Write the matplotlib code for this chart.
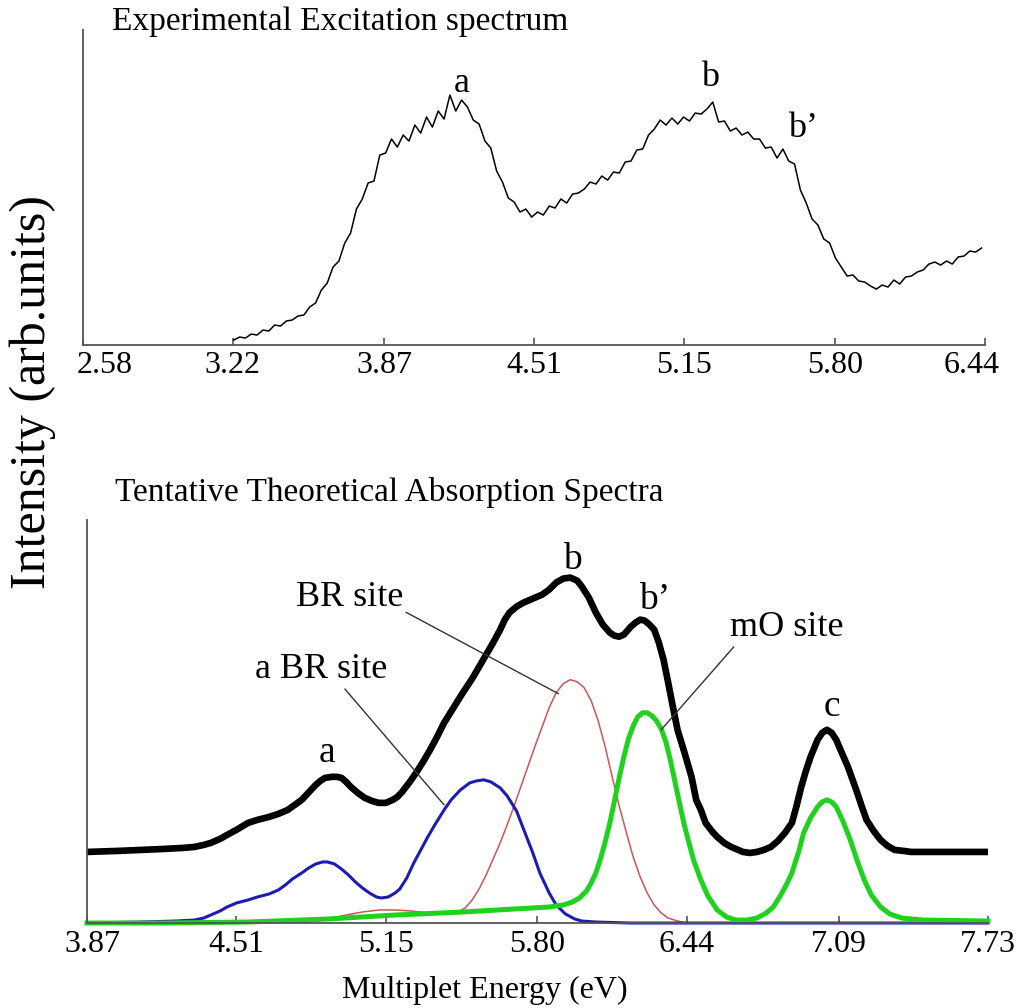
import numpy as np
import matplotlib
matplotlib.use("Agg")
import matplotlib.pyplot as plt
import matplotlib.transforms as mtransforms

plt.rcParams['font.family'] = ['Liberation Serif', 'DejaVu Serif']

# ---- experimental excitation spectrum (top) ----
exp_energy = [
    3.225, 3.250, 3.275, 3.300, 3.325, 3.350, 3.375, 3.400, 3.425, 3.450,
    3.475, 3.500, 3.525, 3.550, 3.575, 3.600, 3.625, 3.650, 3.675, 3.700,
    3.725, 3.750, 3.775, 3.800, 3.825, 3.850, 3.875, 3.900, 3.925, 3.950,
    3.975, 4.000, 4.025, 4.050, 4.075, 4.100, 4.125, 4.150, 4.175, 4.200,
    4.225, 4.250, 4.275, 4.300, 4.325, 4.350, 4.375, 4.400, 4.425, 4.450,
    4.475, 4.500, 4.525, 4.550, 4.575, 4.600, 4.625, 4.650, 4.675, 4.700,
    4.725, 4.750, 4.775, 4.800, 4.825, 4.850, 4.875, 4.900, 4.925, 4.950,
    4.975, 5.000, 5.025, 5.050, 5.075, 5.100, 5.125, 5.150, 5.175, 5.200,
    5.225, 5.250, 5.275, 5.300, 5.325, 5.350, 5.375, 5.400, 5.425, 5.450,
    5.475, 5.500, 5.525, 5.550, 5.575, 5.600, 5.625, 5.650, 5.675, 5.700,
    5.725, 5.750, 5.775, 5.800, 5.825, 5.850, 5.875, 5.900, 5.925, 5.950,
    5.975, 6.000, 6.025, 6.050, 6.075, 6.100, 6.125, 6.150, 6.175, 6.200,
    6.225, 6.250, 6.275, 6.300, 6.325, 6.350, 6.375, 6.400, 6.425,
]
exp_intensity = [
    0.05, 0.08, 0.07, 0.11, 0.10, 0.15, 0.14, 0.20, 0.19, 0.24,
    0.25, 0.29, 0.30, 0.38, 0.42, 0.55, 0.62, 0.78, 0.84, 1.02,
    1.12, 1.36, 1.46, 1.62, 1.64, 1.90, 1.92, 2.06, 1.98, 2.10,
    2.04, 2.20, 2.12, 2.28, 2.18, 2.34, 2.26, 2.50, 2.34, 2.45,
    2.38, 2.25, 2.21, 2.04, 1.97, 1.74, 1.63, 1.47, 1.43, 1.33,
    1.36, 1.28, 1.33, 1.30, 1.39, 1.37, 1.46, 1.42, 1.51, 1.52,
    1.56, 1.63, 1.61, 1.69, 1.65, 1.73, 1.72, 1.83, 1.84, 1.95,
    1.96, 2.10, 2.16, 2.25, 2.20, 2.27, 2.21, 2.28, 2.24, 2.32,
    2.31, 2.36, 2.43, 2.23, 2.24, 2.14, 2.17, 2.10, 2.13, 2.06,
    2.06, 1.97, 1.98, 1.87, 1.96, 1.84, 1.81, 1.55, 1.42, 1.26,
    1.20, 1.06, 1.02, 0.87, 0.78, 0.69, 0.70, 0.64, 0.63, 0.59,
    0.56, 0.60, 0.58, 0.65, 0.61, 0.68, 0.69, 0.73, 0.75, 0.81,
    0.83, 0.80, 0.84, 0.81, 0.88, 0.89, 0.94, 0.93, 0.97,
]
top_ticks = [2.58, 3.22, 3.87, 4.51, 5.15, 5.80, 6.44]

# ---- theoretical absorption spectra (bottom) ----
total_x = [3.87, 4.00, 4.10, 4.20, 4.28, 4.33, 4.37, 4.40, 4.44, 4.47,
           4.51, 4.56, 4.60, 4.65, 4.69, 4.73, 4.76, 4.79, 4.81, 4.83,
           4.85, 4.87, 4.89, 4.92, 4.94, 4.96, 4.98, 5.00, 5.03, 5.06,
           5.09, 5.12, 5.15, 5.18, 5.20, 5.22, 5.25, 5.28, 5.31, 5.34,
           5.37, 5.40, 5.44, 5.48, 5.52, 5.55, 5.58, 5.61, 5.64, 5.66,
           5.68, 5.71, 5.74, 5.78, 5.82, 5.85, 5.88, 5.91, 5.94, 5.97,
           5.99, 6.02, 6.05, 6.08, 6.11, 6.13, 6.15, 6.17, 6.20, 6.22,
           6.24, 6.26, 6.28, 6.30, 6.32, 6.34, 6.36, 6.38, 6.40, 6.43,
           6.46, 6.48, 6.50, 6.52, 6.55, 6.57, 6.60, 6.63, 6.66, 6.68,
           6.71, 6.74, 6.77, 6.80, 6.83, 6.86, 6.89, 6.91, 6.93, 6.95,
           6.97, 7.00, 7.02, 7.04, 7.06, 7.08, 7.10, 7.13, 7.15, 7.17,
           7.19, 7.21, 7.24, 7.27, 7.30, 7.33, 7.37, 7.40, 7.55, 7.73]
total_y = [0.71, 0.72, 0.73, 0.74, 0.75, 0.76, 0.78, 0.80, 0.84, 0.88,
           0.93, 1.00, 1.03, 1.06, 1.09, 1.13, 1.18, 1.23, 1.28, 1.33,
           1.38, 1.42, 1.45, 1.46, 1.46, 1.45, 1.41, 1.36, 1.30, 1.25,
           1.22, 1.20, 1.20, 1.23, 1.26, 1.31, 1.40, 1.50, 1.61, 1.73,
           1.86, 2.00, 2.15, 2.30, 2.44, 2.56, 2.68, 2.80, 2.93, 3.03,
           3.10, 3.16, 3.20, 3.24, 3.28, 3.33, 3.40, 3.44, 3.45, 3.42,
           3.36, 3.25, 3.10, 2.98, 2.90, 2.87, 2.86, 2.88, 2.96, 3.00,
           3.03, 3.02, 2.98, 2.93, 2.80, 2.63, 2.40, 2.16, 1.93, 1.70,
           1.46, 1.23, 1.13, 1.00, 0.91, 0.86, 0.80, 0.76, 0.73, 0.71,
           0.70, 0.71, 0.73, 0.76, 0.82, 0.90, 1.00, 1.17, 1.36, 1.52,
           1.66, 1.83, 1.90, 1.93, 1.90, 1.83, 1.72, 1.56, 1.43, 1.30,
           1.16, 1.03, 0.92, 0.83, 0.77, 0.73, 0.72, 0.71, 0.71, 0.71]

abr_x = [3.87, 4.10, 4.25, 4.33, 4.37, 4.40, 4.44, 4.47, 4.51, 4.56,
         4.60, 4.65, 4.69, 4.72, 4.75, 4.79, 4.82, 4.85, 4.88, 4.90,
         4.93, 4.96, 4.99, 5.02, 5.05, 5.08, 5.11, 5.13, 5.16, 5.19,
         5.21, 5.24, 5.27, 5.30, 5.33, 5.36, 5.40, 5.43, 5.47, 5.51,
         5.54, 5.57, 5.60, 5.64, 5.67, 5.71, 5.74, 5.78, 5.81, 5.85,
         5.88, 5.92, 5.96, 5.99, 6.05, 6.20, 7.73]
abr_y = [0.00, 0.01, 0.02, 0.03, 0.05, 0.08, 0.12, 0.16, 0.20, 0.23,
         0.26, 0.29, 0.33, 0.38, 0.44, 0.50, 0.55, 0.59, 0.61, 0.61,
         0.59, 0.54, 0.48, 0.41, 0.35, 0.30, 0.26, 0.25, 0.26, 0.30,
         0.34, 0.45, 0.60, 0.73, 0.86, 0.98, 1.13, 1.23, 1.33, 1.40,
         1.42, 1.43, 1.41, 1.35, 1.27, 1.12, 0.94, 0.70, 0.50, 0.30,
         0.18, 0.09, 0.04, 0.02, 0.01, 0.00, 0.00]

br_x = [4.80, 4.90, 4.98, 5.05, 5.12, 5.19, 5.26, 5.33, 5.40, 5.45,
        5.49, 5.52, 5.55, 5.58, 5.61, 5.64, 5.67, 5.70, 5.73, 5.76,
        5.79, 5.82, 5.85, 5.88, 5.91, 5.94, 5.97, 6.00, 6.03, 6.06,
        6.09, 6.12, 6.15, 6.18, 6.21, 6.24, 6.27, 6.30, 6.33, 6.36,
        6.40, 6.44]
br_y = [0.00, 0.04, 0.08, 0.11, 0.13, 0.13, 0.12, 0.10, 0.09, 0.10,
        0.15, 0.23, 0.34, 0.48, 0.64, 0.80, 0.98, 1.17, 1.37, 1.57,
        1.77, 1.96, 2.15, 2.30, 2.39, 2.43, 2.41, 2.35, 2.22, 2.02,
        1.76, 1.46, 1.17, 0.91, 0.66, 0.46, 0.30, 0.18, 0.10, 0.05,
        0.02, 0.00]

mo_x = [3.87, 4.20, 4.56, 4.90, 5.19, 5.48, 5.70, 5.85, 5.91, 5.95,
        5.98, 6.01, 6.03, 6.05, 6.07, 6.09, 6.11, 6.13, 6.15, 6.17,
        6.19, 6.21, 6.23, 6.25, 6.27, 6.29, 6.31, 6.33, 6.35, 6.37,
        6.39, 6.41, 6.43, 6.45, 6.47, 6.50, 6.53, 6.57, 6.61, 6.65,
        6.70, 6.74, 6.78, 6.81, 6.84, 6.87, 6.89, 6.92, 6.94, 6.97,
        7.00, 7.02, 7.04, 7.06, 7.08, 7.11, 7.14, 7.17, 7.20, 7.23,
        7.27, 7.31, 7.36, 7.45, 7.73]
mo_y = [0.00, 0.00, 0.01, 0.04, 0.08, 0.11, 0.14, 0.16, 0.18, 0.21,
        0.25, 0.32, 0.40, 0.50, 0.64, 0.81, 1.00, 1.22, 1.45, 1.66,
        1.84, 1.97, 2.06, 2.10, 2.10, 2.07, 2.02, 1.94, 1.81, 1.62,
        1.40, 1.18, 0.97, 0.79, 0.62, 0.43, 0.27, 0.13, 0.06, 0.03,
        0.03, 0.05, 0.10, 0.16, 0.27, 0.40, 0.50, 0.72, 0.90, 1.05,
        1.16, 1.21, 1.23, 1.21, 1.16, 1.01, 0.83, 0.62, 0.43, 0.28,
        0.16, 0.09, 0.05, 0.03, 0.02]
bottom_ticks = [3.87, 4.51, 5.15, 5.80, 6.44, 7.09, 7.73]

spine_col = '#555555'

fig = plt.figure(figsize=(10.2, 10.08), dpi=100)
ax1 = fig.add_axes([0.0814, 0.6577, 0.8843, 0.3125])
ax2 = fig.add_axes([0.0853, 0.0843, 0.8833, 0.4003])


def style_axis(ax, ticks, pad):
    for side in ['top', 'right']:
        ax.spines[side].set_visible(False)
    for side in ['left', 'bottom']:
        ax.spines[side].set_color(spine_col)
        ax.spines[side].set_linewidth(1.3)
    ax.set_yticks([])
    ax.set_xticks(ticks)
    ax.set_xticklabels(['%.2f' % t for t in ticks])
    ax.tick_params(axis='x', direction='in', length=5, width=1.2,
                   color=spine_col, labelsize=23, pad=pad)


# top panel
ax1.plot(exp_energy, exp_intensity, color='black', lw=1.1)
ax1.set_xlim(2.58, 6.44)
ax1.set_ylim(0, 3.15)
style_axis(ax1, top_ticks, 4)
labs = ax1.get_xticklabels()
labs[0].set_transform(labs[0].get_transform() +
                      mtransforms.ScaledTranslation(0.22, 0, fig.dpi_scale_trans))
labs[-1].set_transform(labs[-1].get_transform() +
                       mtransforms.ScaledTranslation(-0.13, 0, fig.dpi_scale_trans))

ax1.text(4.20, 2.62, 'a', fontsize=26, ha='center', va='center')
ax1.text(5.263, 2.68, 'b', fontsize=26, ha='center', va='center')
ax1.text(5.66, 2.17, 'b\u2019', fontsize=26, ha='center', va='center')

# bottom panel
ax2.plot(br_x, br_y, color='#cc5555', lw=1.1, clip_on=False)
ax2.plot(abr_x, abr_y, color='#1c1cb4', lw=2.2, clip_on=False,
         solid_joinstyle='round')
ax2.plot(mo_x, mo_y, color='#1ed21e', lw=3.6, clip_on=False,
         solid_joinstyle='round')
ax2.plot(total_x, total_y, color='black', lw=4.8, clip_on=False,
         solid_joinstyle='round', solid_capstyle='butt')
ax2.set_xlim(3.87, 7.73)
ax2.set_ylim(0, 4.03)
style_axis(ax2, bottom_ticks, 5)
labs2 = ax2.get_xticklabels()
labs2[0].set_transform(labs2[0].get_transform() +
                       mtransforms.ScaledTranslation(0.05, 0, fig.dpi_scale_trans))

for s, x, y in [('a', 4.90, 1.70), ('b', 5.95, 3.63),
                ('b\u2019', 6.30, 3.23), ('c', 7.06, 2.16)]:
    ax2.text(x, y, s, fontsize=27, ha='center', va='center')

line_kw = dict(arrowstyle='-', color='#333333', lw=1.0, shrinkA=0, shrinkB=0)
ax2.annotate('BR site', xy=(5.89, 2.29), xytext=(4.995, 3.25),
             fontsize=26, ha='center', va='center',
             arrowprops=dict(relpos=(1.0, 0.1), **line_kw))
ax2.annotate('a BR site', xy=(5.40, 1.18), xytext=(4.874, 2.53),
             fontsize=26, ha='center', va='center',
             arrowprops=dict(relpos=(0.66, 0.0), **line_kw))
ax2.annotate('mO site', xy=(6.33, 1.93), xytext=(6.87, 2.95),
             fontsize=26, ha='center', va='center',
             arrowprops=dict(relpos=(0.05, 0.0), **line_kw))

ax2.set_xlabel('Multiplet Energy (eV)', fontsize=23)
ax2.xaxis.set_label_coords(0.442, -0.166)
ax2.xaxis.label.set_va('center')

# titles and shared y label
fig.text(112 / 1020, 1 - 22 / 1008, 'Experimental Excitation spectrum',
         fontsize=24, ha='left', va='center')
fig.text(115 / 1020, 1 - 493 / 1008, 'Tentative Theoretical Absorption Spectra',
         fontsize=24, ha='left', va='center')
fig.text(33 / 1020, 1 - 392 / 1008, 'Intensity (arb.units)',
         fontsize=36, rotation=90, ha='center', va='center')

fig.savefig('out.png', dpi=100)
